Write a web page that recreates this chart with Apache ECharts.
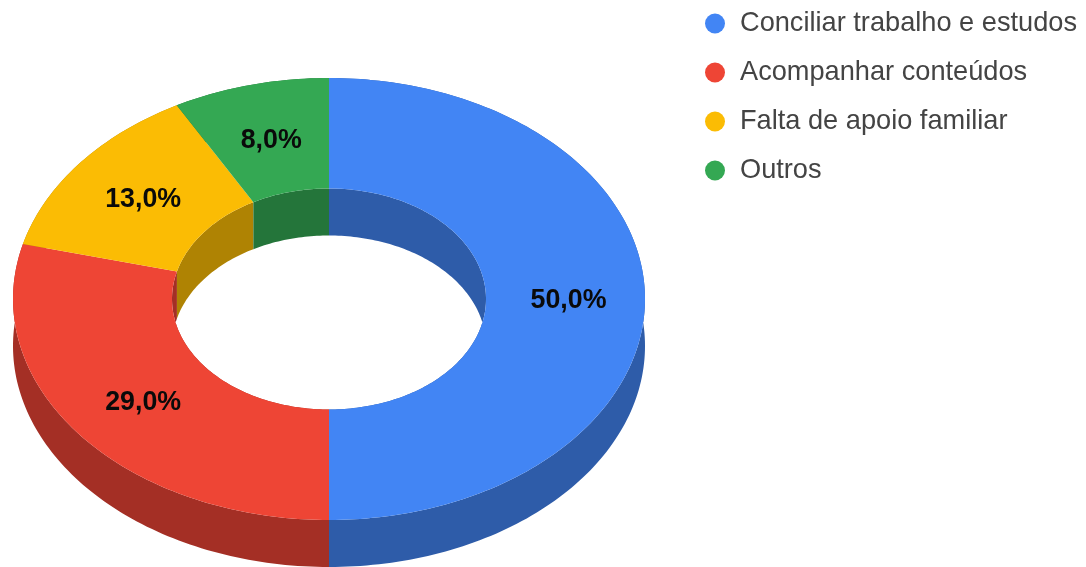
<!DOCTYPE html>
<html>
<head>
<meta charset="utf-8">
<style>html,body{margin:0;padding:0;background:#fff}#c{width:1086px;height:567px}</style>
<script src="https://cdn.jsdelivr.net/npm/echarts@6/dist/echarts.min.js"></script>
</head>
<body>
<div id="c"></div>
<script>
const categories = ['Conciliar trabalho e estudos', 'Acompanhar conteúdos', 'Falta de apoio familiar', 'Outros'];
const values = [50, 29, 13, 8];
const topColors = ['#4285F4', '#EE4535', '#FBBC04', '#34A853'];
const wallColors = ['#2E5CA9', '#A42F25', '#AF8303', '#24753A'];

const cx = 329, cy = 299, rxOuter = 316, ryOuter = 221, rxInner = 157, ryInner = 110.5, depth = 47;
const total = values.reduce((a, b) => a + b, 0);

function pt(rx, ry, angle, dy) {
  return [cx + rx * Math.sin(angle), cy - ry * Math.cos(angle) + dy];
}
function arc(rx, ry, a0, a1, dy) {
  const n = Math.max(2, Math.ceil((a1 - a0) / 0.02));
  const out = [];
  for (let i = 0; i <= n; i++) out.push(pt(rx, ry, a0 + (a1 - a0) * i / n, dy));
  return out;
}
function poly(points, fill, z2) {
  return { type: 'polygon', z2: z2, shape: { points: points }, style: { fill: fill } };
}
function sliceRenderer(idx) {
  return function (params, api) {
    const before = values.slice(0, idx).reduce((a, b) => a + b, 0);
    const a0 = before / total * 2 * Math.PI;
    const a1 = (before + api.value(0)) / total * 2 * Math.PI;
    const mid = (a0 + a1) / 2;
    const labelPos = pt((rxOuter + rxInner) / 2, (ryOuter + ryInner) / 2, mid, 2);
    labelPos[0] += 1 + 2 * Math.max(Math.sin(mid), 0);
    const outerTop = arc(rxOuter, ryOuter, a0, a1, 0);
    const innerTop = arc(rxInner, ryInner, a0, a1, 0);
    const outerLow = arc(rxOuter, ryOuter, a0, a1, depth);
    const innerLow = arc(rxInner, ryInner, a0, a1, depth);
    return {
      type: 'group',
      children: [
        poly(outerTop.concat(outerLow.slice().reverse()), wallColors[idx], 1),
        poly(innerTop.concat(innerLow.slice().reverse()), wallColors[idx], 2),
        poly(outerTop.concat(innerTop.slice().reverse()), topColors[idx], 10),
        {
          type: 'text', z2: 20, x: labelPos[0], y: labelPos[1],
          style: {
            text: api.value(0).toFixed(1).replace('.', ',') + '%',
            font: 'bold 26.8px "Liberation Sans", Arial, sans-serif',
            fill: '#0a0a0a', align: 'center', verticalAlign: 'middle'
          }
        }
      ]
    };
  };
}

const chart = echarts.init(document.getElementById('c'), null, { renderer: 'canvas' });
chart.setOption({
  animation: false,
  backgroundColor: '#ffffff',
  legend: {
    orient: 'vertical', left: 700, top: 5,
    icon: 'circle', itemWidth: 20, itemHeight: 20, itemGap: 22, align: 'left',
    selectedMode: false,
    textStyle: { color: '#444444', fontSize: 27.2, lineHeight: 24, fontFamily: '"Liberation Sans", Arial, sans-serif', padding: [0, 0, 0, 10] },
    data: categories
  },
  series: categories.map((name, i) => ({
    type: 'custom',
    name: name,
    coordinateSystem: 'none',
    silent: true,
    itemStyle: { color: topColors[i] },
    renderItem: sliceRenderer(i),
    data: [[values[i]]]
  }))
});
</script>
</body>
</html>
